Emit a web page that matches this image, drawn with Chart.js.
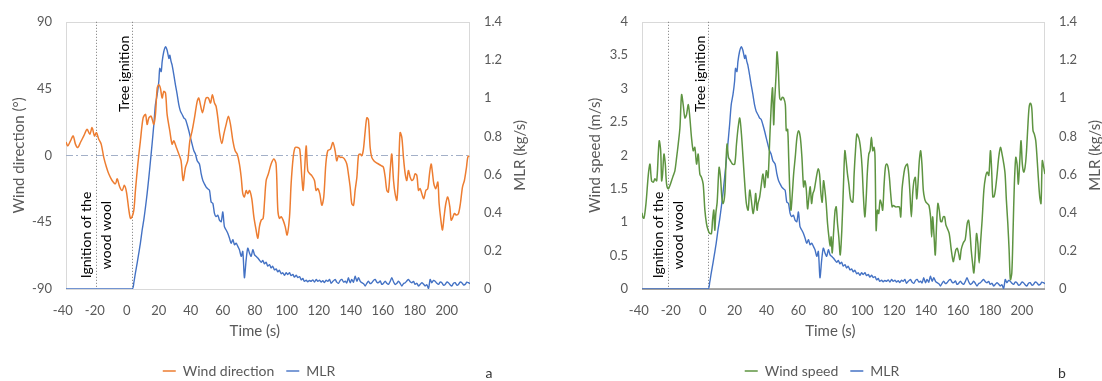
<!DOCTYPE html>
<html><head><meta charset="utf-8">
<script src="https://cdn.jsdelivr.net/npm/chart.js@4.4.1/dist/chart.umd.min.js"></script>
<style>
html,body{margin:0;padding:0;background:#fff;overflow:hidden;width:1102px;height:381px}
.wrap{position:absolute;top:0;width:551px;height:381px}
#wa{left:0}#wb{left:551px}
canvas{display:block}
</style></head><body>
<div class="wrap" id="wa"><canvas id="ca" width="551" height="381"></canvas></div>
<div class="wrap" id="wb"><canvas id="cb" width="551" height="381"></canvas></div>
<script>
// ---------- tick labels ----------
const timeTicks = [-40,-20,0,20,40,60,80,100,120,140,160,180,200];
const dirTicks = [-90,-45,0,45,90];
const speedTicks = [0,0.5,1,1.5,2,2.5,3,3.5,4];
const mlrTicks = [0,0.2,0.4,0.6,0.8,1,1.2,1.4];

// ---------- events (s) ----------
const eventLabels = [['Ignition of the','wood wool'], ['Tree ignition']];
const eventTimesA = [-19.1, 3.4];
const eventTimesB = [-21.6, 3.4];

// ---------- MLR (kg/s) ----------
const mlrTime = [
-38,3.3,4.4,5.4,6.5,7.5,8.5,9.6,10.6,11.7,
12.7,13.8,14.8,15.8,16.9,17.9,19.0,20.0,20.6,21.5,
22.1,23.1,24.2,25.2,26.3,26.9,27.7,28.3,29.4,30.4,
31.5,32.5,33.5,34.6,35.6,36.7,37.7,38.8,39.8,40.8,
41.9,42.9,44.0,45.4,46.5,47.5,48.5,49.6,50.6,51.7,
52.7,53.8,54.8,55.8,56.9,57.9,59.0,60.0,61.0,62.1,
63.1,64.2,65.2,66.3,67.3,68.3,69.4,70.4,71.5,72.5,
73.5,74.6,75.6,76.7,77.7,78.8,79.8,80.8,81.9,83.0,
84.0,85.0,86.0,87.1,88.1,89.2,90.2,91.2,92.3,93.3,
94.4,95.4,96.5,97.5,98.5,99.6,100.6,101.7,102.7,103.8,
104.8,105.9,106.9,108.0,109.0,110.0,111.0,112.1,113.1,114.2,
115.2,116.3,117.3,118.4,119.4,120.5,121.5,122.5,123.5,124.6,
125.6,126.7,127.7,128.8,130.2,131.2,132.3,133.4,134.4,135.5,
136.5,137.5,138.5,139.6,140.6,141.7,142.7,143.8,144.8,145.9,
146.9,148.0,149.0,150.0,151.0,152.1,153.1,154.2,155.2,156.3,
157.3,158.4,159.4,160.4,161.5,162.5,163.5,164.6,165.6,166.7,
167.7,168.8,169.8,170.8,171.9,172.9,174.0,175.0,176.0,177.1,
178.1,179.2,180.2,181.3,182.3,183.3,184.4,185.4,186.5,187.5,
188.6,189.6,190.6,191.7,192.7,193.8,194.8,195.8,196.9,197.9,
199.0,200.0,201.0,202.1,203.1,204.2,205.2,206.3,207.3,208.3,
209.4,210.4,211.5,212.5,213.5,214.5];
const mlrValue = [
0,0,.033,.085,.137,.188,.240,.309,.361,.430,
.500,.586,.672,.759,.862,.966,1.018,1.087,1.156,1.139,
1.191,1.243,1.269,1.251,1.208,1.225,1.191,1.174,1.122,1.070,
1.018,.966,.932,.914,.897,.888,.862,.828,.793,.759,
.724,.707,.672,.655,.603,.569,.551,.534,.525,.517,
.456,.448,.396,.379,.387,.361,.353,.404,.327,.309,
.292,.266,.240,.258,.232,.240,.223,.206,.171,.197,
.059,.154,.214,.188,.171,.206,.180,.171,.162,.150,
.140,.150,.132,.140,.120,.128,.110,.119,.100,.105,
.090,.098,.080,.085,.072,.085,.076,.085,.070,.076,
.062,.072,.060,.065,.048,.055,.040,.046,.038,.045,
.040,.048,.036,.050,.040,.046,.036,.044,.034,.046,
.040,.050,.030,.040,.050,.036,.030,.045,.050,.036,
.041,.032,.059,.033,.050,.036,.067,.041,.059,.040,
.033,.028,.016,.030,.041,.028,.033,.045,.050,.036,
.033,.042,.024,.030,.041,.030,.024,.040,.059,.038,
.024,.030,.041,.030,.016,.028,.033,.042,.050,.038,
.033,.040,.024,.030,.016,.024,.033,.026,.016,.022,
.003,.050,.033,.045,.041,.030,.024,.036,.033,.020,
.024,.036,.033,.022,.016,.030,.033,.020,.024,.036,
.033,.022,.024,.036,.033,.028];

// ---------- Wind direction (deg) ----------
const dirTime = [
-38,-36.9,-35.2,-33.5,-32.1,-30.6,-29.0,-26.9,-24.8,-23.1,
-21.7,-20.2,-19.0,-17.5,-16.0,-14.4,-12.7,-11.3,-9.2,-7.1,
-6.0,-4.4,-2.9,-1.5,-0.2,1.3,2.3,3.3,4.4,5.4,
6.9,8.5,10.2,11.7,12.7,13.8,15.2,16.9,17.9,19.0,
20.0,21.0,22.1,23.1,24.2,25.2,26.9,28.3,29.4,31.0,
32.5,33.9,35.2,36.7,38.1,39.4,40.8,42.3,44.0,45.0,
46.0,47.3,48.5,49.6,51.0,52.3,53.5,54.8,55.8,56.9,
58.1,59.4,60.6,62.1,63.5,64.8,66.3,67.7,69.0,70.4,
71.5,72.5,73.5,74.6,75.6,76.7,78.1,79.4,80.8,81.9,
82.9,84.0,85.2,86.0,87.1,88.5,90.2,91.9,93.3,94.4,
95.4,96.5,97.7,99.0,100.2,101.7,102.7,104.0,105.2,106.9,
108.1,109.4,110.2,111.0,112.1,113.1,114.4,115.6,117.3,118.3,
119.4,120.6,121.9,123.1,124.4,125.6,127.3,128.8,130.2,131.2,
132.3,133.5,134.8,136.0,137.5,138.5,139.6,140.6,141.7,142.7,
143.8,144.8,145.8,146.9,147.9,149.0,150.0,151.0,152.1,153.1,
154.4,155.6,157.3,159.0,160.4,161.5,162.5,163.5,164.6,165.6,
166.7,167.7,168.8,169.8,170.8,171.9,172.9,174.0,175.0,176.0,
177.1,178.1,179.2,180.2,181.3,182.3,183.3,184.4,185.6,186.9,
188.1,189.2,190.2,191.0,191.9,193.1,194.4,195.2,196.3,197.3,
198.3,199.4,200.6,201.9,202.7,203.5,204.8,206.0,207.3,208.5,
209.8,211.0,212.3,213.1,214.0];
const dirValue = [
9,6.4,9.8,13.1,7.6,5.3,8.7,13.1,17.6,14.2,
18.7,13.1,15.3,10.9,7.6,-1.3,-8,-12.4,-16.9,-19.1,
-15.8,-21.3,-23.6,-20.2,-24.7,-36.9,-42.4,-41.3,-36.9,-23.6,
-5.8,9.8,25.3,27.6,20.9,25.3,26.4,20.9,27.6,45.3,
47.6,45.3,38.7,43.1,42,27.6,16.4,7.6,9.8,5.3,
0.9,-3.6,-16.9,-8,-3.6,9.8,16.4,25.3,36.4,38.7,
34.2,28.7,34.2,38.7,38.7,35.3,40.9,35.3,33.1,25.3,
14.2,8,14.2,20.9,26.4,20.9,9.8,3.1,0.9,-5.8,
-14.7,-25.8,-28,-23.6,-25.8,-23.6,-29.1,-41.3,-50.2,-55.8,
-48,-43.6,-42.4,-32.4,-16.9,-12.4,-5.8,-2.4,-5.8,-36.9,
-42.4,-41.3,-43.6,-48,-53.6,-41.3,-19.1,-1.3,5.3,5.3,
4.2,-14.7,-23.6,-12.4,6.4,-10.2,-12.4,-13.6,-16.9,-23.6,
-22.4,-25.8,-33.6,-28,-5.8,3.1,4.2,8.7,3.1,-3.6,
-0.2,-1.3,-1.3,-2.4,-5.8,-12.4,-21.3,-32.4,-33.6,-23.6,
-14.7,-0.2,0.9,-0.2,4.2,16.4,25.3,24.2,5.3,-1.3,
-3.6,-4.7,-5.8,-6.9,-8,-14.7,-23.6,-24.7,-10.2,0.9,
-16.9,-25.8,-30.2,-12.4,15.3,12,-1.3,-12.4,-16.9,-10.2,
-14.7,-16.9,-15.8,-12.4,-13.6,-23.6,-22.4,-25.8,-29.1,-23.6,
-22.4,-12.4,-5.8,-11.3,-19.1,-22.4,-18,-32.4,-43.6,-50.2,
-41.3,-32.4,-28,-34.7,-43.6,-42.4,-39.1,-40.2,-39.1,-32.4,
-21.3,-16.9,-8,-1.3,-0.2];

// ---------- Wind speed (m/s) ----------
const speedTime = [
-38,-37.6,-36.75,-35.5,-34.0,-33.0,-32.0,-30.9,-29.9,-28.8,
-27.8,-27.2,-26.3,-25.7,-25.1,-24.25,-23.4,-22.6,-21.5,-20.5,
-19.5,-18.4,-17.4,-16.3,-15.3,-14.25,-13.2,-12.2,-11.1,-10.1,
-9.0,-8.0,-7.0,-5.9,-4.9,-3.8,-2.8,-1.75,-0.7,0.33,
1.4,2.4,3.45,4.5,5.5,6.2,7.0,7.6,8.25,9.1,
10.3,11.2,12.0,12.8,13.9,14.5,15.3,16.2,17.4,18.7,
20.1,21.2,22.2,23.25,24.3,25.3,26.4,27.4,28.5,29.5,
30.5,31.6,32.6,33.25,34.1,34.7,35.75,36.8,37.8,38.9,
39.9,40.96,42.0,43.0,43.8,44.5,45.1,46.0,46.6,47.4,
48.25,49.1,49.9,50.75,51.8,52.4,53.25,53.9,54.5,55.3,
56.2,57.0,58.0,59.1,60.1,61.2,62.2,63.25,64.1,64.9,
65.75,66.6,67.4,68.25,69.1,69.9,70.75,71.6,72.4,73.25,
74.1,74.9,75.75,76.6,77.4,78.25,79.1,79.9,80.5,81.2,
82.0,83.0,83.7,84.5,85.3,86.2,87.2,88.25,89.1,89.9,
90.75,91.6,92.8,94.1,94.9,95.75,96.6,97.4,98.25,99.1,
99.9,100.75,101.6,102.4,103.25,104.1,104.9,105.75,106.6,107.4,
108.0,108.7,109.5,110.3,111.2,112.0,112.8,113.7,114.5,115.3,
116.2,117.0,117.8,118.7,119.5,120.75,122.0,123.25,124.1,124.9,
125.75,126.6,127.4,128.25,129.1,129.9,130.75,131.6,132.4,133.25,
134.1,134.9,135.75,136.6,137.4,138.25,139.1,139.9,140.75,141.8,
142.8,143.5,144.1,144.9,145.75,146.6,147.4,148.25,149.1,149.9,
150.75,151.6,152.4,153.25,154.5,155.75,157.0,157.8,158.7,159.5,
160.3,161.2,162.0,163.25,164.5,165.75,166.6,167.4,168.25,169.1,
169.9,170.75,171.6,172.4,173.25,174.1,175.1,176.2,177.2,178.25,
179.3,180.3,181.0,181.8,182.6,183.5,184.5,185.5,186.6,187.6,
188.7,189.5,190.3,191.2,192.0,192.8,193.7,194.5,195.3,196.2,
197.0,197.8,198.7,199.5,200.3,201.2,202.0,202.8,203.7,204.5,
205.3,206.2,207.0,207.8,208.7,209.5,210.3,211.2,212.0,212.8,
213.7,214.5];
const speedValue = [
1.14,1.08,1.06,1.28,1.72,1.87,1.62,1.60,1.65,1.62,
2.02,2.22,2.07,1.62,1.72,2.02,1.87,1.57,1.50,1.55,
1.62,1.70,1.77,1.97,2.17,2.41,2.91,2.76,2.56,2.61,
2.76,2.56,2.27,2.07,2.12,1.87,2.02,1.72,1.67,1.57,
1.18,0.98,0.88,0.83,0.83,1.03,1.18,0.88,1.13,1.30,
1.82,1.67,1.38,1.28,1.43,1.82,2.17,1.97,1.92,1.87,
1.87,2.17,2.41,2.56,2.32,1.97,1.57,1.28,1.18,1.48,
1.33,1.13,1.28,1.43,1.18,1.28,1.38,1.57,1.72,1.52,
1.77,1.67,2.22,2.76,3.01,2.46,2.81,3.20,3.55,3.30,
2.86,2.83,2.87,2.86,2.76,2.37,2.39,1.97,1.53,1.18,
1.43,1.72,1.97,2.27,2.37,2.27,1.97,1.53,1.62,1.50,
1.20,1.38,1.53,1.28,1.43,1.48,1.60,1.72,1.80,1.72,
1.43,1.30,1.62,1.48,1.28,0.98,0.78,0.64,0.78,0.54,
0.83,1.18,1.23,0.98,0.78,0.51,0.88,1.57,2.07,1.92,
1.72,1.57,1.33,1.30,1.72,2.07,2.32,2.29,2.22,2.07,
1.82,1.38,1.08,1.33,1.77,2.02,2.07,2.27,2.07,2.12,
1.97,0.88,1.18,1.13,1.33,1.28,1.18,1.57,1.82,1.87,
1.82,1.67,1.43,1.23,1.25,1.23,1.23,1.23,1.08,1.48,
1.67,1.80,1.85,1.87,1.72,1.43,1.08,1.43,1.62,1.67,
1.35,1.57,1.92,2.07,1.87,1.48,1.35,1.30,1.28,1.25,
1.08,0.78,1.08,0.83,0.51,0.98,1.28,1.18,1.01,1.01,
1.08,1.08,0.96,0.91,0.83,0.59,0.41,0.49,0.59,0.61,
0.54,0.44,0.59,0.69,0.74,0.98,1.03,0.88,0.59,0.39,
0.24,0.49,0.83,0.69,0.39,0.69,1.03,1.48,1.67,1.75,
1.70,2.07,1.82,1.38,1.38,1.50,1.72,1.97,2.12,2.02,
1.87,1.72,1.33,0.98,0.59,0.14,0.24,0.88,1.57,1.97,
1.87,1.57,1.92,2.22,1.87,1.75,1.82,2.02,2.41,2.71,
2.78,2.71,2.37,2.32,2.22,1.97,1.67,1.38,1.28,1.92,
1.82,1.72];

// ---------- rendering ----------
const FONT = 'Lato, "Open Sans", sans-serif';
const GREY = '#595959';
const ORANGE = '#ED7D31', BLUE = '#4472C4', GREEN = '#5E9441';

function pairs(ts, vs) {
  const n = Math.min(ts.length, vs.length), out = [];
  for (let i = 0; i < n; i++) out.push({x: ts[i], y: vs[i]});
  return out;
}
const fmt = v => String(Math.round(v * 100) / 100);

const overlay = {
  id: 'overlay',
  afterLayout(chart, args, o) {
    const lg = chart.legend;
    if (lg) { lg.left += o.legendDx; lg.right += o.legendDx; lg.top += o.legendDy; lg.bottom += o.legendDy; }
  },
  beforeDatasetsDraw(chart, args, o) {
    const {ctx, chartArea: a, scales} = chart;
    const xs = scales.x, yl = scales.yL;
    ctx.save();
    ctx.strokeStyle = '#d9d9d9'; ctx.lineWidth = 1;
    ctx.strokeRect(Math.round(a.left) + 0.5, Math.round(a.top) + 0.5,
                   Math.round(a.right - a.left) - 1, Math.round(a.bottom - a.top));
    if (o.bottomAxis) {
      ctx.strokeStyle = '#8c8c8c'; ctx.lineWidth = 1.5;
      ctx.beginPath(); ctx.moveTo(a.left, a.bottom); ctx.lineTo(a.right, a.bottom); ctx.stroke();
    }
    if (o.zeroLine) {
      const y = Math.round(yl.getPixelForValue(0)) + 0.5;
      ctx.strokeStyle = '#a3b0c8'; ctx.lineWidth = 1; ctx.setLineDash([7, 3, 2, 3]);
      ctx.beginPath(); ctx.moveTo(a.left, y); ctx.lineTo(a.right, y); ctx.stroke();
    }
    ctx.setLineDash([1, 2]); ctx.strokeStyle = '#777'; ctx.lineWidth = 1;
    o.events.forEach(t => {
      const x = Math.round(xs.getPixelForValue(t)) + 0.5;
      ctx.beginPath(); ctx.moveTo(x, a.top); ctx.lineTo(x, a.bottom); ctx.stroke();
    });
    ctx.restore();
  },
  afterDraw(chart, args, o) {
    const {ctx, chartArea: a, scales} = chart;
    const xs = scales.x;
    ctx.save();
    ctx.fillStyle = '#000'; ctx.font = '14px ' + FONT; ctx.textBaseline = 'middle';
    o.events.forEach((t, i) => {
      const lines = eventLabels[i];
      const x = xs.getPixelForValue(t);
      ctx.save();
      if (lines.length > 1) {
        ctx.translate(x, a.bottom - 54); ctx.rotate(-Math.PI / 2); ctx.textAlign = 'center';
        lines.forEach((s, k) => ctx.fillText(s, 0, (k - (lines.length - 1) / 2) * 20));
      } else {
        ctx.translate(x - 8, a.top + 14); ctx.rotate(-Math.PI / 2); ctx.textAlign = 'right';
        ctx.fillText(lines[0], 0, 0);
      }
      ctx.restore();
    });
    ctx.fillStyle = GREY; ctx.font = '15px ' + FONT;
    ctx.save();
    ctx.translate(a.right + 50, (a.top + a.bottom) / 2); ctx.rotate(-Math.PI / 2);
    ctx.textAlign = 'center'; ctx.fillText(o.rightTitle, 0, 0);
    ctx.restore();
    const xc = (xs.getPixelForValue(timeTicks[0]) + xs.getPixelForValue(timeTicks[timeTicks.length - 1])) / 2;
    ctx.textAlign = 'center'; ctx.fillText(o.xTitle, xc, 331);
    ctx.fillStyle = '#333'; ctx.font = '14px ' + FONT;
    ctx.fillText(o.letter, o.letterX, 373);
    ctx.restore();
  }
};

function makeChart(id, cfg) {
  const tickFont = {family: FONT, size: 13};
  return new Chart(document.getElementById(id), {
    type: 'line',
    data: {datasets: [
      {label: cfg.leftLabel, data: pairs(cfg.leftT, cfg.leftV), yAxisID: 'yL',
       borderColor: cfg.leftColor, backgroundColor: cfg.leftColor, borderWidth: 1.5,
       pointRadius: 0, tension: 0.3, fill: false},
      {label: 'MLR', data: pairs(mlrTime, mlrValue), yAxisID: 'yR',
       borderColor: BLUE, backgroundColor: BLUE, borderWidth: 1.4,
       pointRadius: 0, tension: 0.25, fill: false}
    ]},
    options: {
      responsive: false, animation: false, devicePixelRatio: 1, events: [],
      layout: {padding: {left: cfg.padL, right: cfg.padR, top: 18, bottom: 0}},
      scales: {
        x: {type: 'linear', min: -38, max: 214.5,
            afterBuildTicks: s => { s.ticks = timeTicks.map(v => ({value: v})); },
            afterFit: s => { s.height = 56; },
            grid: {display: false, drawTicks: false}, border: {display: false},
            ticks: {autoSkip: false, maxRotation: 0, padding: 14, color: GREY, font: tickFont, callback: fmt}},
        yL: {position: 'left', min: cfg.leftTicks[0], max: cfg.leftTicks[cfg.leftTicks.length - 1],
             afterBuildTicks: s => { s.ticks = cfg.leftTicks.map(v => ({value: v})); },
             afterFit: s => { s.width = 56; },
             grid: {display: false, drawTicks: false}, border: {display: false},
             ticks: {padding: 14, color: GREY, font: tickFont, callback: fmt},
             title: {display: true, text: cfg.leftTitle, color: GREY, font: {family: FONT, size: 15}, padding: 0}},
        yR: {position: 'right', min: 0, max: 1.4,
             afterBuildTicks: s => { s.ticks = mlrTicks.map(v => ({value: v})); },
             afterFit: s => { s.width = 40; },
             grid: {display: false, drawTicks: false}, border: {display: false},
             ticks: {padding: 14, color: GREY, font: tickFont, callback: fmt}}
      },
      plugins: {
        tooltip: {enabled: false},
        legend: {position: 'bottom',
                 labels: {usePointStyle: true, pointStyle: 'line', pointStyleWidth: 13,
                          color: GREY, font: {family: FONT, size: 14}, padding: 12}},
        overlay: cfg.overlay
      }
    },
    plugins: [overlay]
  });
}

makeChart('ca', {
  leftLabel: 'Wind direction', leftT: dirTime, leftV: dirValue, leftColor: ORANGE,
  leftTicks: dirTicks, leftTitle: 'Wind direction (°)', padL: 10, padR: 41,
  overlay: {legendDx: -11, legendDy: 7, events: eventTimesA, zeroLine: true, bottomAxis: false,
            rightTitle: 'MLR (kg/s)', xTitle: 'Time (s)', letter: 'a', letterX: 489}
});
makeChart('cb', {
  leftLabel: 'Wind speed', leftT: speedTime, leftV: speedValue, leftColor: GREEN,
  leftTicks: speedTicks, leftTitle: 'Wind speed (m/s)', padL: 35, padR: 17,
  overlay: {legendDx: -13.5, legendDy: 7, events: eventTimesB, zeroLine: false, bottomAxis: true,
            rightTitle: 'MLR (kg/s)', xTitle: 'Time (s)', letter: 'b', letterX: 511}
});
</script>
</body></html>
